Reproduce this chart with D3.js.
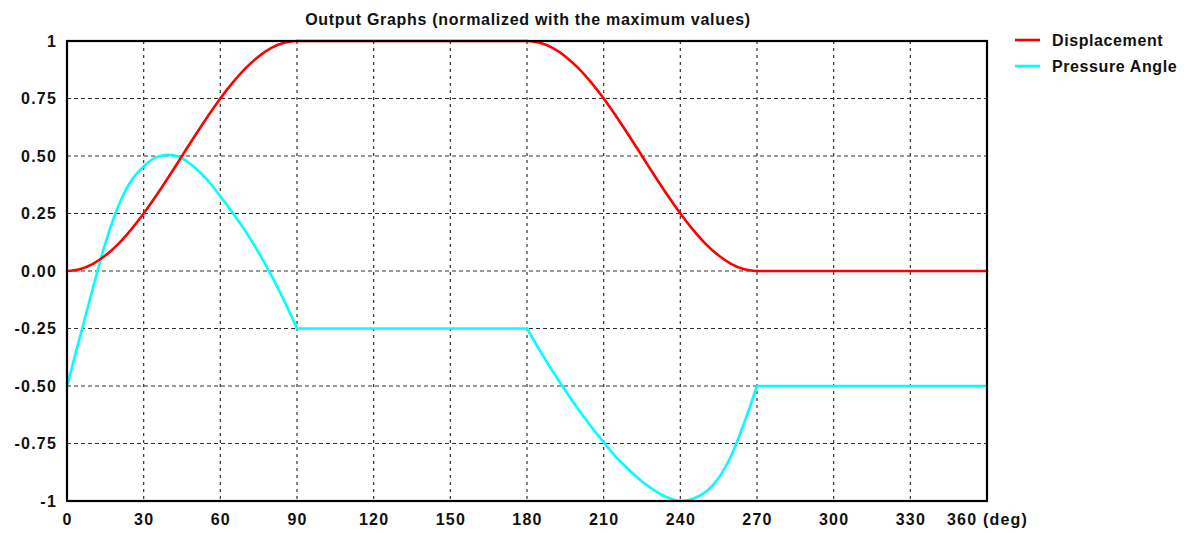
<!DOCTYPE html>
<html>
<head>
<meta charset="utf-8">
<script src="https://cdn.jsdelivr.net/npm/d3@7"></script>
<style>
  body { margin: 0; background: #fff; }
  text { font-family: "Liberation Sans", Arial, sans-serif; font-weight: bold; fill: #111; }
</style>
</head>
<body>
<svg id="chart" width="1186" height="533"></svg>
<script>
// cam angle (deg), every 5 degrees
var angles = d3.range(0, 365, 5);

// normalized follower displacement (rows: rise, dwell, return, dwell)
var displacement = [
  0.00, 0.008, 0.030, 0.067, 0.117, 0.179, 0.25, 0.329, 0.413, 0.50, 0.587, 0.671, 0.75, 0.821, 0.883, 0.933, 0.970, 0.992, 1.00,
  1.00, 1.00, 1.00, 1.00, 1.00, 1.00, 1.00, 1.00, 1.00, 1.00, 1.00, 1.00, 1.00, 1.00, 1.00, 1.00, 1.00,
  1.00, 0.992, 0.970, 0.933, 0.883, 0.821, 0.75, 0.671, 0.587, 0.50, 0.413, 0.329, 0.25, 0.179, 0.117, 0.067, 0.030, 0.008, 0.00,
  0.00, 0.00, 0.00, 0.00, 0.00, 0.00, 0.00, 0.00, 0.00, 0.00, 0.00, 0.00, 0.00, 0.00, 0.00, 0.00, 0.00, 0.00
];

// normalized pressure angle
var pressureAngle = [
  -0.50, -0.29, -0.08, 0.12, 0.28, 0.39, 0.455, 0.495, 0.505, 0.49, 0.45, 0.395, 0.325, 0.25, 0.17, 0.08, -0.02, -0.13, -0.25,
  -0.25, -0.25, -0.25, -0.25, -0.25, -0.25, -0.25, -0.25, -0.25, -0.25, -0.25, -0.25, -0.25, -0.25, -0.25, -0.25, -0.25,
  -0.25, -0.345, -0.435, -0.52, -0.60, -0.675, -0.745, -0.81, -0.865, -0.915, -0.955, -0.985, -1.00, -0.99, -0.96, -0.90, -0.80, -0.66, -0.50,
  -0.50, -0.50, -0.50, -0.50, -0.50, -0.50, -0.50, -0.50, -0.50, -0.50, -0.50, -0.50, -0.50, -0.50, -0.50, -0.50, -0.50, -0.50
];

// the motion is made of four parts, keep the corners between them sharp
var pieces = [[0, 90], [90, 180], [180, 270], [270, 360]];

var xTicks = [0, 30, 60, 90, 120, 150, 180, 210, 240, 270, 300, 330, 360];
var xTickLabels = ["0", "30", "60", "90", "120", "150", "180", "210", "240", "270", "300", "330", "360 (deg)"];
var yTicks = [1, 0.75, 0.5, 0.25, 0, -0.25, -0.5, -0.75, -1];
var yTickLabels = ["1", "0.75", "0.50", "0.25", "0.00", "-0.25", "-0.50", "-0.75", "-1"];

var seriesNames = ["Displacement", "Pressure Angle"];
var seriesColors = ["#ff0000", "#00ffff"];

var svg = d3.select("#chart");

var x = d3.scaleLinear().domain([0, 360]).range([67, 987]);
var y = d3.scaleLinear().domain([-1, 1]).range([501, 41]);

// title
svg.append("text")
    .attr("x", 528)
    .attr("y", 25)
    .attr("text-anchor", "middle")
    .attr("font-size", 16)
    .attr("letter-spacing", 0.7)
    .text("Output Graphs (normalized with the maximum values)");

// dashed grid
var grid = svg.append("g").attr("class", "grid");
grid.selectAll("line.v")
    .data(xTicks.slice(1, -1))
    .enter().append("line")
    .attr("class", "v")
    .attr("x1", function(d) { return x(d); })
    .attr("x2", function(d) { return x(d); })
    .attr("y1", y(1))
    .attr("y2", y(-1))
    .attr("stroke", "#333")
    .attr("stroke-width", 1.2)
    .attr("stroke-dasharray", "3,4");
grid.selectAll("line.h")
    .data(yTicks.slice(1, -1))
    .enter().append("line")
    .attr("class", "h")
    .attr("x1", x(0))
    .attr("x2", x(360))
    .attr("y1", function(d) { return y(d); })
    .attr("y2", function(d) { return y(d); })
    .attr("stroke", "#333")
    .attr("stroke-width", 1.2)
    .attr("stroke-dasharray", "4,3");

// axes (labels only, the frame is drawn below)
var xAxis = svg.append("g")
    .attr("transform", "translate(0," + y(-1) + ")")
    .call(d3.axisBottom(x)
        .tickValues(xTicks)
        .tickSize(0)
        .tickPadding(13)
        .tickFormat(function(d, i) { return xTickLabels[i]; }));
var yAxis = svg.append("g")
    .attr("transform", "translate(" + x(0) + ",0)")
    .call(d3.axisLeft(y)
        .tickValues(yTicks)
        .tickSize(0)
        .tickPadding(10)
        .tickFormat(function(d, i) { return yTickLabels[i]; }));
svg.selectAll(".domain").remove();
svg.selectAll(".tick text")
    .attr("font-family", "Liberation Sans, Arial, sans-serif")
    .attr("font-weight", "bold")
    .attr("font-size", 16)
    .attr("letter-spacing", 1.2)
    .attr("fill", "#111");

// curves
var line = d3.line()
    .x(function(d) { return x(d.a); })
    .y(function(d) { return y(d.v); })
    .curve(d3.curveMonotoneX);

[pressureAngle, displacement].forEach(function(values, k) {
    var color = k == 0 ? seriesColors[1] : seriesColors[0];
    var pts = angles.map(function(a, i) { return {a: a, v: values[i]}; });
    pieces.forEach(function(p) {
        svg.append("path")
            .datum(pts.filter(function(d) { return d.a >= p[0] && d.a <= p[1]; }))
            .attr("fill", "none")
            .attr("stroke", color)
            .attr("stroke-width", 2.6)
            .attr("stroke-linejoin", "round")
            .attr("stroke-linecap", "round")
            .attr("d", line);
    });
});

// frame
svg.append("rect")
    .attr("x", x(0))
    .attr("y", y(1))
    .attr("width", x(360) - x(0))
    .attr("height", y(-1) - y(1))
    .attr("fill", "none")
    .attr("stroke", "#000")
    .attr("stroke-width", 2.2);

// legend
var legend = svg.append("g")
    .selectAll("g")
    .data(seriesNames)
    .enter().append("g")
    .attr("transform", function(d, i) { return "translate(1015," + (40 + i * 26) + ")"; });
legend.append("line")
    .attr("x1", 0)
    .attr("x2", 25)
    .attr("stroke", function(d, i) { return seriesColors[i]; })
    .attr("stroke-width", 2.6);
legend.append("text")
    .attr("x", 37)
    .attr("dy", 5.5)
    .attr("font-size", 16)
    .attr("letter-spacing", 0.6)
    .text(function(d) { return d; });
</script>
</body>
</html>
